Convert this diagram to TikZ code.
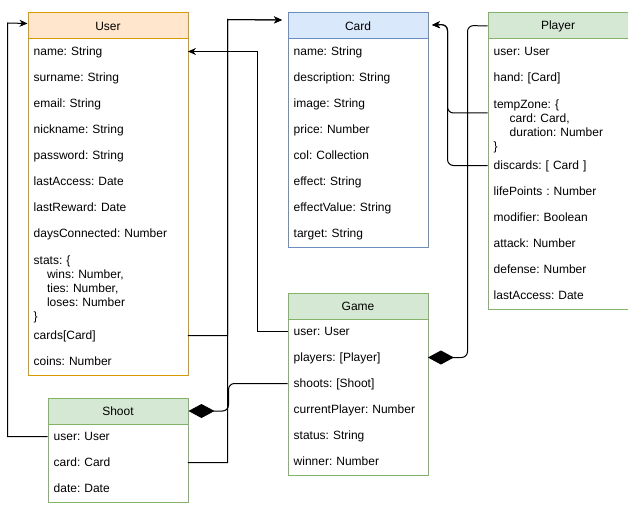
\documentclass[tikz,border=0pt]{standalone}
\usepackage{fontspec}
\setmainfont{Liberation Sans}
\usetikzlibrary{arrows.meta}
\definecolor{uoF}{HTML}{FFE6CC}
\definecolor{uoS}{HTML}{D79B00}
\definecolor{cbF}{HTML}{DAE8FC}
\definecolor{cbS}{HTML}{6C8EBF}
\definecolor{gF}{HTML}{D5E8D4}
\definecolor{gS}{HTML}{82B366}
\begin{document}
\frenchspacing
\begin{tikzpicture}[x=1pt,y=-1pt,
  every node/.style={font=\fontsize{12pt}{14pt}\selectfont\frenchspacing},
  hdr/.style={draw, line width=1pt, minimum height=26pt, inner sep=0pt, anchor=north west},
  bodybox/.style={draw, line width=1pt, fill=white, inner sep=0pt, anchor=north west},
  row/.style={anchor=west, inner xsep=6pt, inner ysep=0pt, text height=8.6pt, text depth=0pt, align=left},
  rowU/.style={row, text width=148pt},
  rowN/.style={row, text width=128pt},
  mrow/.style={anchor=north west, inner xsep=6pt, inner ysep=0pt, align=left},
  conn/.style={line width=1pt, black},
  arr/.style={-{Stealth[length=8pt,width=7pt,inset=2.5pt]}},
  dia/.style={{Diamond[length=26pt,width=14pt]}-},
]
\useasboundingbox (0,0) rectangle (628,505);

% ---------- User ----------
\node[bodybox, draw=uoS, minimum width=160pt, minimum height=362pt] (Ubody) at (27.5,12.5) {};
\node[hdr, draw=uoS, fill=uoF, minimum width=160pt] (Uhead) at (27.5,12.5) {User};
\node[rowU] (uname) at (27.5,51.5) {name: String};
\node[rowU] (usurname) at (27.5,77.5) {surname: String};
\node[rowU] (uemail) at (27.5,103.5) {email: String};
\node[rowU] (unick) at (27.5,129.5) {nickname: String};
\node[rowU] (upass) at (27.5,155.5) {password: String};
\node[rowU] (ulast) at (27.5,181.5) {lastAccess: Date};
\node[rowU] (ureward) at (27.5,207.5) {lastReward: Date};
\node[rowU] (udays) at (27.5,233.5) {daysConnected: Number};
\node[mrow, text width=148pt] (ustats) at (27.5,246.5) {\rule{0pt}{18pt}stats: \{\\\hspace*{13.3pt}wins: Number,\\\hspace*{13.3pt}ties: Number,\\\hspace*{13.3pt}loses: Number\\\}};
\node[rowU] (ucards) at (27.5,335.5) {cards[Card]};
\node[rowU] (ucoins) at (27.5,361.5) {coins: Number};

% ---------- Card ----------
\node[bodybox, draw=cbS, minimum width=140pt, minimum height=234pt] (Cbody) at (287.5,12.5) {};
\node[hdr, draw=cbS, fill=cbF, minimum width=140pt] (Chead) at (287.5,12.5) {Card};
\node[rowN] (cname) at (287.5,51.5) {name: String};
\node[rowN] (cdesc) at (287.5,77.5) {description: String};
\node[rowN] (cimage) at (287.5,103.5) {image: String};
\node[rowN] (cprice) at (287.5,129.5) {price: Number};
\node[rowN] (ccol) at (287.5,155.5) {col: Collection};
\node[rowN] (ceffect) at (287.5,181.5) {effect: String};
\node[rowN] (ceffval) at (287.5,207.5) {effectValue: String};
\node[rowN] (ctarget) at (287.5,233.5) {target: String};

% ---------- Player ----------
\node[bodybox, draw=gS, minimum width=140pt, minimum height=296pt] (Pbody) at (487.5,12.5) {};
\node[hdr, draw=gS, fill=gF, minimum width=140pt] (Phead) at (487.5,12.5) {Player};
\node[rowN] (puser) at (487.5,51.5) {user: User};
\node[rowN] (phand) at (487.5,77.5) {hand: [Card]};
\node[mrow, text width=128pt] (ptemp) at (487.5,90.5) {\rule{0pt}{18pt}tempZone: \{\\\hspace*{16pt}card: Card,\\\hspace*{16pt}duration: Number\\\}};
\node[rowN] (pdisc) at (487.5,165.5) {discards: [ Card ]};
\node[rowN] (plife) at (487.5,191.5) {lifePoints : Number};
\node[rowN] (pmod) at (487.5,217.5) {modifier: Boolean};
\node[rowN] (patt) at (487.5,243.5) {attack: Number};
\node[rowN] (pdef) at (487.5,269.5) {defense: Number};
\node[rowN] (plast) at (487.5,295.5) {lastAccess: Date};
\coordinate (ptz) at (487.5,113);

% ---------- Game ----------
\node[bodybox, draw=gS, minimum width=140pt, minimum height=182pt] (Gbody) at (287.5,292.5) {};
\node[hdr, draw=gS, fill=gF, minimum width=140pt] (Ghead) at (287.5,292.5) {Game};
\node[rowN] (guser) at (287.5,331.5) {user: User};
\node[rowN] (gplayers) at (287.5,357.5) {players: [Player]};
\node[rowN] (gshoots) at (287.5,383.5) {shoots: [Shoot]};
\node[rowN] (gcur) at (287.5,409.5) {currentPlayer: Number};
\node[rowN] (gstatus) at (287.5,435.5) {status: String};
\node[rowN] (gwinner) at (287.5,461.5) {winner: Number};

% ---------- Shoot ----------
\node[bodybox, draw=gS, minimum width=140pt, minimum height=104pt] (Sbody) at (47.5,397.5) {};
\node[hdr, draw=gS, fill=gF, minimum width=140pt] (Shead) at (47.5,397.5) {Shoot};
\node[rowN] (suser) at (47.5,436.5) {user: User};
\node[rowN] (scard) at (47.5,462.5) {card: Card};
\node[rowN] (sdate) at (47.5,488.5) {date: Date};

% ---------- Connectors ----------
\draw[conn,arr] (suser.west) -| (7.5,23) -- ([yshift=2.5pt]Uhead.west);
\draw[conn,arr] (guser.west) -| (257.5,51.5) -- (uname.east);
\draw[conn,arr] (ucards.east) -| (227.5,19.5) -- ([xshift=-5.5pt,yshift=6pt]Chead.west);
\draw[conn,arr] (scard.east) -| (227.5,19.5) -- ([xshift=-5.5pt,yshift=6pt]Chead.west);
\draw[conn,arr,rounded corners=6pt] (ptz) -| (447.5,24.5) -- ([xshift=3.5pt,yshift=1pt]Chead.east);
\draw[conn,arr,rounded corners=6pt] (pdisc.west) -| (447.5,24.5) -- ([xshift=3.5pt,yshift=1pt]Chead.east);
\draw[conn,dia,rounded corners=6pt] (gplayers.east) -| (467.5,25.5) -- (Phead.west);
\draw[conn,dia,rounded corners=6pt] (Shead.east) -| (228.5,383.5) -- (gshoots.west);
\end{tikzpicture}
\end{document}
